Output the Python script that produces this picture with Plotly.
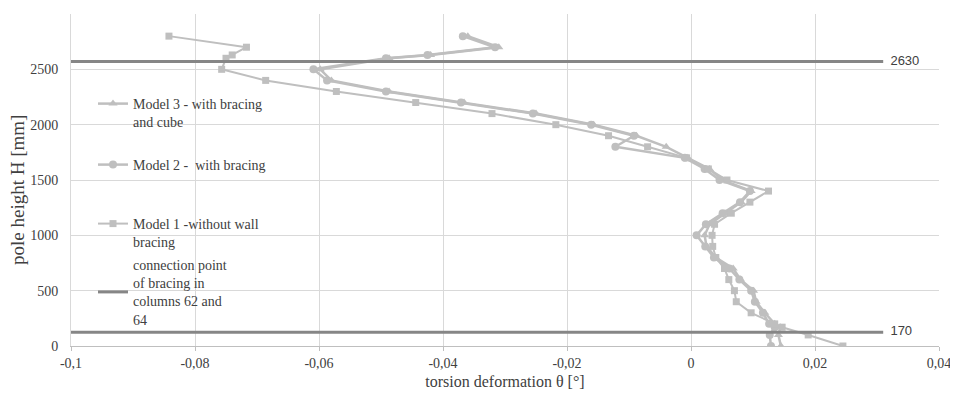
import plotly.graph_objects as go

# ---------------- data ----------------
heights = [2800, 2700, 2630, 2600, 2500, 2400, 2300, 2200, 2100, 2000, 1900, 1800,
           1700, 1600, 1500, 1400, 1300, 1200, 1100, 1000, 900, 800, 700, 600,
           500, 400, 300, 200, 170, 100, 0]

model3 = [-0.0360, -0.0310, -0.0420, -0.0487, -0.0598, -0.0580, -0.0487, -0.0366, -0.0250, -0.0157, -0.0088, -0.0040,
          -0.0005, 0.0030, 0.0050, 0.0097, 0.0081, 0.0055, 0.0030, 0.0022, 0.0025, 0.0040, 0.0068, 0.0080,
          0.0101, 0.0105, 0.0119, 0.0135, 0.0144, 0.0141, 0.0145]

model2 = [-0.0368, -0.0316, -0.0425, -0.0492, -0.0609, -0.0587, -0.0492, -0.0371, -0.0255, -0.0161, -0.0092, -0.0122,
          -0.0010, 0.0022, 0.0046, 0.0095, 0.0079, 0.0051, 0.0024, 0.0009, 0.0023, 0.0037, 0.0062, 0.0078,
          0.0097, 0.0103, 0.0116, 0.0126, 0.0135, 0.0127, 0.0129]

model1 = [-0.0842, -0.0717, -0.0740, -0.0750, -0.0757, -0.0686, -0.0572, -0.0444, -0.0321, -0.0218, -0.0133, -0.0070,
          -0.0007, 0.0028, 0.0058, 0.0125, 0.0095, 0.0065, 0.0038, 0.0034, 0.0035, 0.0040, 0.0054, 0.0061,
          0.0070, 0.0073, 0.0097, 0.0135, 0.0147, 0.0189, 0.0245]

conn_x = [-0.1, 0.0310]
conn_upper_y = [2570, 2570]
conn_lower_y = [125, 125]
conn_labels = ["2630", "170"]

x_tick_vals = [-0.1, -0.08, -0.06, -0.04, -0.02, 0, 0.02, 0.04]
x_tick_text = ["-0,1", "-0,08", "-0,06", "-0,04", "-0,02", "0", "0,02", "0,04"]
y_tick_vals = [0, 500, 1000, 1500, 2000, 2500, 3000]

names = ["Model 3 - with bracing<br>and cube",
         "Model 2 - \u00a0with bracing",
         "Model 1 -without wall<br>bracing",
         "connection point<br>of bracing in<br>columns 62 and<br>64"]

x_title = "torsion deformation θ [°]"
y_title = "pole height H [mm]"

# ---------------- styling ----------------
GRAY = "#BFBFBF"
DARK = "#868686"
SERIF = "Liberation Serif, Times New Roman, serif"
SANS = "Liberation Sans, Arial, sans-serif"
TXT = "#404040"

# page body has an 8px default margin: size the figure to fill the rest
OFF = 8
W, H = 958 - OFF, 396 - OFF
L, R, T, B = 63, 19, 6, 50
PW, PH = W - L - R, H - T - B


def paper_x(xpix):  # window pixel -> paper coordinate
    return (xpix - OFF - L) / PW


def paper_y(ypix):
    return (T + PH - (ypix - OFF)) / PH


fig = go.Figure()

fig.add_trace(go.Scatter(x=model3, y=heights, mode="lines+markers", name=names[0],
                         line=dict(color=GRAY, width=2.5),
                         marker=dict(symbol="triangle-up", size=8, color=GRAY, line=dict(width=0)),
                         legend="legend"))
fig.add_trace(go.Scatter(x=model2, y=heights, mode="lines+markers", name=names[1],
                         line=dict(color=GRAY, width=2.5),
                         marker=dict(symbol="circle", size=8, color=GRAY, line=dict(width=0)),
                         legend="legend2"))
fig.add_trace(go.Scatter(x=model1, y=heights, mode="lines+markers", name=names[2],
                         line=dict(color=GRAY, width=2),
                         marker=dict(symbol="square", size=7, color=GRAY, line=dict(width=0)),
                         legend="legend3"))
for yy, lab, show in [(conn_upper_y, conn_labels[0], True), (conn_lower_y, conn_labels[1], False)]:
    fig.add_trace(go.Scatter(x=conn_x, y=yy, mode="lines+text", name=names[3],
                             line=dict(color=DARK, width=3),
                             text=["", "\u00a0\u00a0" + lab], textposition="middle right",
                             textfont=dict(family=SANS, size=13, color=TXT),
                             showlegend=show, legend="legend4"))


def leg(ypix, valign):
    return dict(x=paper_x(93), y=paper_y(ypix), xref="paper", yref="paper",
                xanchor="left", yanchor="top", valign=valign,
                bgcolor="rgba(0,0,0,0)", borderwidth=0, itemwidth=30,
                font=dict(family=SERIF, size=14, color=TXT))


fig.update_layout(
    template="none",
    width=W, height=H, autosize=False,
    margin=dict(l=L, r=R, t=T, b=B, pad=0),
    paper_bgcolor="white", plot_bgcolor="white",
    font=dict(family=SERIF, size=13, color=TXT),
    showlegend=True,
    legend=leg(88, "top"),
    legend2=leg(149, "top"),
    legend3=leg(208, "top"),
    legend4=leg(249, "middle"),
    xaxis=dict(range=[-0.1, 0.04], tickvals=x_tick_vals, ticktext=x_tick_text,
               automargin=False,
               showgrid=True, gridcolor="#D9D9D9", gridwidth=1, zeroline=False,
               showline=True, linecolor="#BFBFBF", linewidth=1,
               ticks="outside", ticklen=4, tickcolor="#BFBFBF",
               tickfont=dict(family=SERIF, size=14, color=TXT),
               title=dict(text=x_title,
                          font=dict(family=SERIF, size=16, color=TXT), standoff=6)),
    yaxis=dict(range=[0, 3000], tickvals=y_tick_vals,
               automargin=False,
               showgrid=True, gridcolor="#D9D9D9", gridwidth=1, zeroline=False,
               showline=True, linecolor="#D9D9D9", linewidth=1,
               ticks="outside", ticklen=9, tickcolor="rgba(0,0,0,0)",
               tickfont=dict(family=SERIF, size=14, color=TXT)),
    annotations=[dict(text=y_title, textangle=-90, showarrow=False,
                      xref="paper", yref="paper", x=paper_x(18), y=paper_y(190),
                      xanchor="center", yanchor="middle",
                      font=dict(family=SERIF, size=19, color=TXT))],
)

fig.write_html("out.html")
